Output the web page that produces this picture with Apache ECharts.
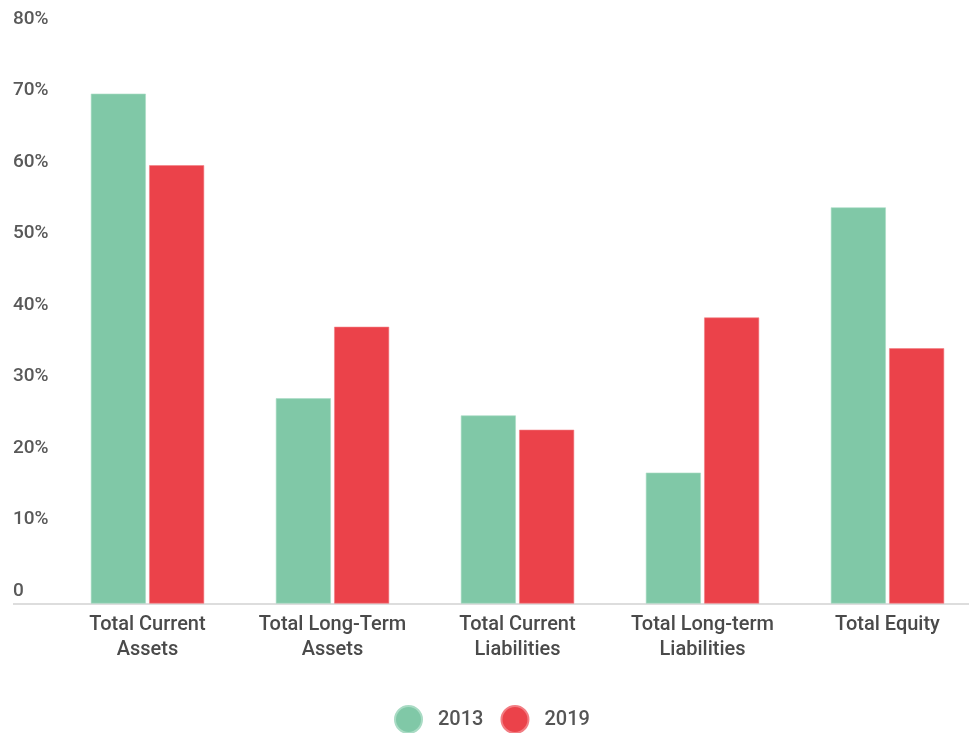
<!DOCTYPE html>
<html>
<head>
<meta charset="utf-8">
<script src="https://cdn.jsdelivr.net/npm/echarts@6/dist/echarts.min.js"></script>
<style>
  html, body { margin: 0; padding: 0; background: #ffffff; }
  #chart { width: 969px; height: 733px; }
</style>
</head>
<body>
<div id="chart"></div>
<script>
// Balance sheet composition, share of total (%)
const categories = [
  'Total Current\nAssets',
  'Total Long-Term\nAssets',
  'Total Current\nLiabilities',
  'Total Long-term\nLiabilities',
  'Total Equity'
];
const seriesNames = ['2013', '2019'];
const values2013 = [71.3, 28.7, 26.3, 18.3, 55.4];
const values2019 = [61.3, 38.7, 24.3, 40.0, 35.7];
const yTicks = [0, 10, 20, 30, 40, 50, 60, 70, 80];

const GREEN = '#80c8a7';
const RED = '#eb424a';
const FONT = 'Roboto, "Noto Sans", sans-serif';

const chart = echarts.init(document.getElementById('chart'), null, { renderer: 'canvas' });

const option = {
  backgroundColor: '#ffffff',
  animation: false,
  grid: {
    left: 55, width: 925, top: 31.5, bottom: 129.5,
    containLabel: false,
    outerBoundsMode: 'none'
  },
  legend: {
    data: seriesNames,
    bottom: -6,
    left: 389,
    icon: 'circle',
    itemWidth: 27,
    itemHeight: 27,
    itemGap: 17,
    textStyle: {
      fontFamily: FONT,
      fontSize: 20,
      fontWeight: 500,
      color: '#555555',
      padding: [0, 0, 0, 11]
    }
  },
  xAxis: {
    type: 'category',
    data: categories,
    boundaryGap: true,
    axisLine: { show: false },
    axisTick: { show: false },
    axisLabel: {
      interval: 0,
      margin: 9,
      fontFamily: FONT,
      fontSize: 20,
      fontWeight: 500,
      lineHeight: 25,
      color: '#4a4a4a',
      align: 'center',
      verticalAlign: 'top'
    }
  },
  yAxis: {
    type: 'value',
    min: yTicks[0],
    max: yTicks[yTicks.length - 1],
    interval: 10,
    axisLine: { show: false },
    axisTick: { show: false },
    splitLine: { show: false },
    axisLabel: {
      align: 'left',
      verticalAlign: 'bottom',
      margin: 42,
      padding: [0, 0, 3, 0],
      fontFamily: FONT,
      fontSize: 19,
      fontWeight: 500,
      lineHeight: 19,
      color: '#595959',
      formatter: function (v) { return v === 0 ? '0' : v + '%'; }
    }
  },
  series: [
    {
      name: seriesNames[0],
      type: 'bar',
      data: values2013,
      barWidth: 55,
      barGap: '6%',
      itemStyle: { color: GREEN, borderColor: '#a9dbc4', borderWidth: 0.6 }
    },
    {
      name: seriesNames[1],
      type: 'bar',
      data: values2019,
      barWidth: 55,
      barGap: '6%',
      itemStyle: { color: RED, borderColor: '#f27d83', borderWidth: 0.6 }
    }
  ]
};

chart.setOption(option);

// Baseline running the full width under the bars, placed on the zero value
const zeroY = chart.convertToPixel({ yAxisIndex: 0 }, 0);
chart.setOption({
  graphic: [{
    type: 'line',
    shape: { x1: 13, y1: zeroY + 0.5, x2: 969, y2: zeroY + 0.5 },
    style: { stroke: '#dddddd', lineWidth: 2 },
    z: 1
  }]
});
</script>
</body>
</html>
